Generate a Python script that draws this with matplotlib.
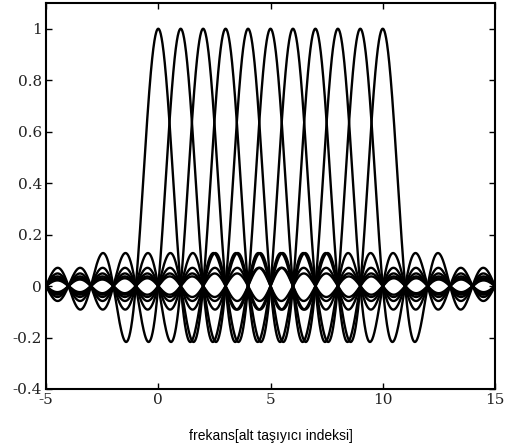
import numpy as np
import matplotlib
matplotlib.use("Agg")
import matplotlib.pyplot as plt

# Subcarrier indices (centres of the sinc spectra)
subcarriers = [0, 1, 2, 3, 4, 5, 6, 7, 8, 9, 10]
x_range = (-5, 15)
y_range = (-0.4, 1.1)
x_ticks = [-5, 0, 5, 10, 15]
y_ticks = [-0.4, -0.2, 0, 0.2, 0.4, 0.6, 0.8, 1]
y_tick_labels = ["-0.4", "-0.2", "0", "0.2", "0.4", "0.6", "0.8", "1"]
x_label = "frekans[alt taşıyıcı indeksi]"

fig = plt.figure(figsize=(5.16, 4.48), dpi=100)
ax = fig.add_axes([46/516, 1 - 389/448, (495 - 46)/516, (389 - 3)/448])

f = np.linspace(x_range[0], x_range[1], 2001)
for k in subcarriers:
    ax.plot(f, np.sinc(f - k), color="black", lw=1.7)

ax.set_xlim(*x_range)
ax.set_ylim(*y_range)
ax.set_xticks(x_ticks)
ax.set_xticklabels([str(t) for t in x_ticks], fontfamily="DejaVu Serif", fontsize=11, color="#222222")
ax.set_yticks(y_ticks)
ax.set_yticklabels(y_tick_labels, fontfamily="DejaVu Serif", fontsize=11, color="#222222")
ax.tick_params(direction="in", top=True, right=True, length=4, width=1, pad=3)
for s in ax.spines.values():
    s.set_linewidth(1.5)
ax.set_xlabel(x_label, fontfamily="Liberation Sans", fontsize=10, labelpad=16)

fig.savefig("out.png", dpi=100)
